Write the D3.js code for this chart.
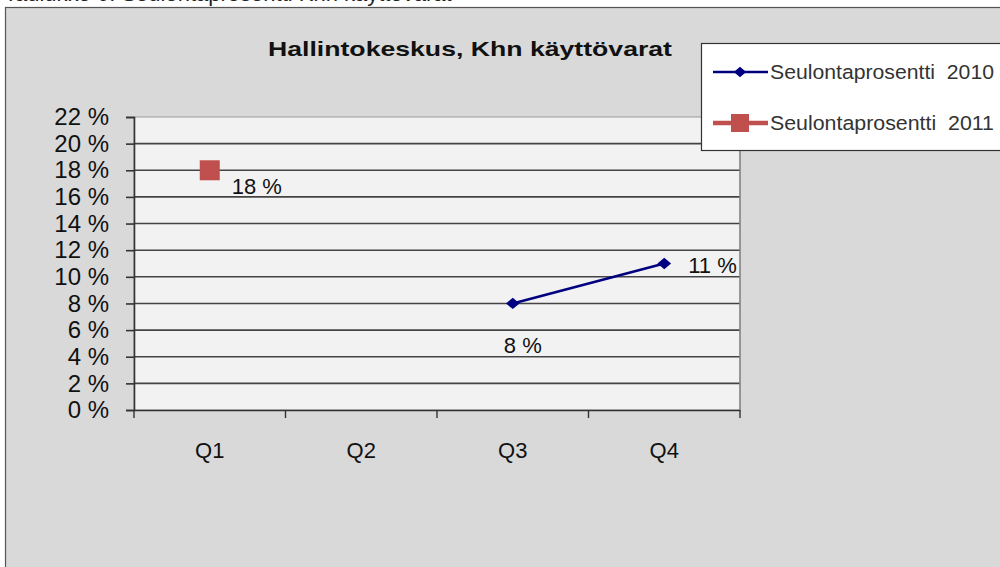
<!DOCTYPE html>
<html><head><meta charset="utf-8">
<script src="https://cdn.jsdelivr.net/npm/d3@7"></script>
<style>html,body{margin:0;padding:0;background:#fff;overflow:hidden}</style>
</head><body>
<script>
const categories = ["Q1","Q2","Q3","Q4"];
const series2010 = [null, null, 8, 11];
const series2011 = [18, null, null, null];
const yTicks = [0,2,4,6,8,10,12,14,16,18,20,22];
const seriesNames = ["Seulontaprosentti  2010","Seulontaprosentti  2011"];
const chartTitle = "Hallintokeskus, Khn käyttövarat";
const captionText = "Taulukko 6. Seulontaprosentti Khn käyttövarat";

const W=1000,H=567;
const svg=d3.select("body").append("svg").attr("width",W).attr("height",H);
const font="Liberation Sans, Arial, sans-serif";

// caption at top, clipped by the chart frame as in the reference
svg.append("text").attr("x",4).attr("y",1).attr("font-family",font).attr("font-size",22)
  .attr("fill","#222").text(captionText);
// chart area
svg.append("rect").attr("x",5.5).attr("y",7.5).attr("width",W).attr("height",H)
  .attr("fill","#d9d9d9").attr("stroke","#555").attr("stroke-width",1.2);

const m={l:134,r:740,t:117,b:410};
const x=d3.scaleBand().domain(categories).range([m.l,m.r]);
const y=d3.scaleLinear().domain([0,22]).range([m.b,m.t]);

svg.append("rect").attr("x",m.l).attr("y",m.t).attr("width",m.r-m.l).attr("height",m.b-m.t)
  .attr("fill","#f2f2f2").attr("stroke","#999").attr("stroke-width",1);

// gridlines
svg.append("g").selectAll("line").data(yTicks.filter(d=>d>0&&d<22)).join("line")
  .attr("x1",m.l).attr("x2",m.r).attr("y1",d=>y(d)).attr("y2",d=>y(d))
  .attr("stroke","#444").attr("stroke-width",1.6);

// y axis
const ya=svg.append("g").attr("transform",`translate(${m.l},0)`)
  .call(d3.axisLeft(y).tickValues(yTicks).tickSize(8).tickPadding(17).tickFormat(d=>d+" %"));
ya.select(".domain").attr("stroke","#333").attr("stroke-width",1.6);
ya.selectAll(".tick line").attr("stroke","#333").attr("stroke-width",1.6);
ya.selectAll("text").attr("font-family",font).attr("font-size",24).attr("fill","#111");

// x axis
const xa=svg.append("g").attr("transform",`translate(0,${m.b})`)
  .call(d3.axisBottom(x).tickSize(0).tickPadding(32));
xa.select(".domain").attr("stroke","#333").attr("stroke-width",1.6);
xa.selectAll("text").attr("font-family",font).attr("font-size",22).attr("fill","#111");
const bounds=[...categories.map(c=>x(c)),m.r];
svg.append("g").selectAll("line").data(bounds).join("line")
  .attr("x1",d=>d).attr("x2",d=>d).attr("y1",m.b).attr("y2",m.b+8)
  .attr("stroke","#333").attr("stroke-width",1.4);
svg.append("line").attr("x1",m.r).attr("x2",m.r).attr("y1",m.t).attr("y2",m.b)
  .attr("stroke","#888").attr("stroke-width",1.5);

const cx=c=>x(c)+x.bandwidth()/2;
// 2010 line
const d2010=categories.map((c,i)=>({c,v:series2010[i]}));
svg.append("path").datum(d2010).attr("fill","none").attr("stroke","#000080").attr("stroke-width",2.5)
  .attr("d",d3.line().defined(d=>d.v!=null).x(d=>cx(d.c)).y(d=>y(d.v)));
svg.append("g").selectAll("path").data(d2010.filter(d=>d.v!=null)).join("path")
  .attr("d",d3.symbol(d3.symbolDiamond2,90)()).attr("fill","#000080")
  .attr("transform",d=>`translate(${cx(d.c)},${y(d.v)}) scale(1.15,0.95)`);
// labels
const lbl=svg.append("g").attr("font-family",font).attr("font-size",22).attr("fill","#111");
d2010.filter(d=>d.v!=null).forEach((d,i)=>{
  if(i===0) lbl.append("text").attr("x",cx(d.c)+10).attr("y",y(d.v)+50).attr("text-anchor","middle").text(d.v+" %");
  else lbl.append("text").attr("x",cx(d.c)+24).attr("y",y(d.v)+9).text(d.v+" %");
});
// 2011
const d2011=categories.map((c,i)=>({c,v:series2011[i]}));
svg.append("g").selectAll("rect").data(d2011.filter(d=>d.v!=null)).join("rect")
  .attr("x",d=>cx(d.c)-10).attr("y",d=>y(d.v)-10).attr("width",20).attr("height",20)
  .attr("fill","#c0504d");
d2011.filter(d=>d.v!=null).forEach(d=>{
  lbl.append("text").attr("x",cx(d.c)+22).attr("y",y(d.v)+24).text(d.v+" %");
});

// title
svg.append("text").attr("x",470).attr("y",56).attr("text-anchor","middle")
  .attr("font-family",font).attr("font-weight","bold").attr("font-size",21).attr("fill","#111")
  .attr("textLength",404).attr("lengthAdjust","spacingAndGlyphs").text(chartTitle);

// legend
const lg=svg.append("g");
lg.append("rect").attr("x",701.5).attr("y",43.5).attr("width",310).attr("height",107)
  .attr("fill","#fff").attr("stroke","#333").attr("stroke-width",1.2);
const ly=[72,123];
lg.append("line").attr("x1",713).attr("x2",768).attr("y1",ly[0]).attr("y2",ly[0]).attr("stroke","#000080").attr("stroke-width",2.5);
lg.append("path").attr("d",d3.symbol(d3.symbolDiamond2,80)()).attr("transform",`translate(740,${ly[0]}) scale(1.1,0.95)`).attr("fill","#000080");
lg.append("line").attr("x1",713).attr("x2",768).attr("y1",ly[1]).attr("y2",ly[1]).attr("stroke","#c0504d").attr("stroke-width",4.5);
lg.append("rect").attr("x",731).attr("y",ly[1]-9).attr("width",18).attr("height",18).attr("fill","#c0504d");
seriesNames.forEach((n,i)=>{
  lg.append("text").attr("x",770).attr("y",ly[i]+7).attr("font-family",font).attr("font-size",20.5)
    .attr("fill","#333").attr("textLength",224).attr("lengthAdjust","spacingAndGlyphs")
    .attr("xml:space","preserve").style("white-space","pre").text(n);
});
</script>
</body></html>
